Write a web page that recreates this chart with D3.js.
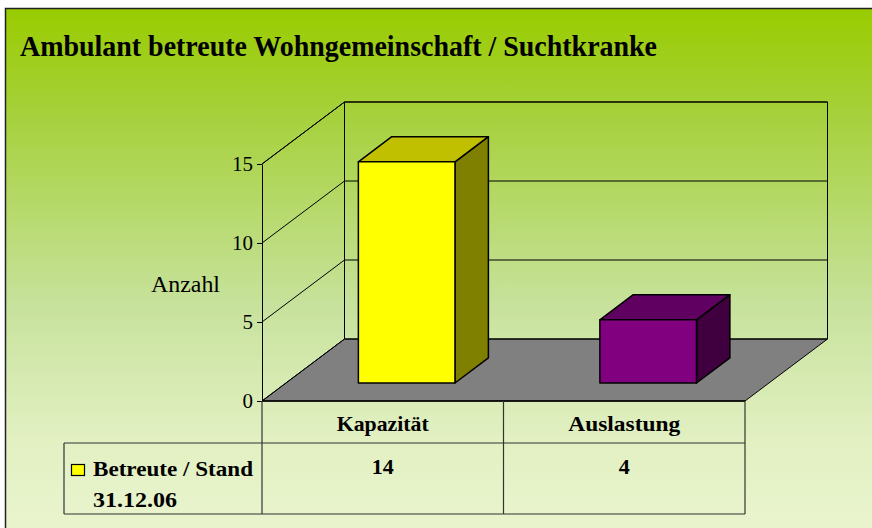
<!DOCTYPE html>
<html>
<head>
<meta charset="utf-8">
<script src="https://cdn.jsdelivr.net/npm/d3@7"></script>
<style>
  html, body { margin: 0; padding: 0; background: #ffffff; }
  svg { display: block; }
  text { font-family: "Liberation Serif", "Times New Roman", serif; fill: #000; }
</style>
</head>
<body>
<svg id="chart" width="872" height="528"></svg>
<script>
// Chart data
const title = "Ambulant betreute Wohngemeinschaft / Suchtkranke";
const categories = ["Kapazität", "Auslastung"];
const values = [14, 4];
const seriesLabel = ["Betreute / Stand", "31.12.06"];
const tickValues = [0, 5, 10, 15];
const yLabel = "Anzahl";

// Per-bar face colours: front, top, side
const barFront = ["#ffff00", "#800080"];
const barTop   = ["#c0c000", "#600060"];
const barSide  = ["#808000", "#400040"];

const svg = d3.select("#chart");
const W = 872, H = 528;

// Background panel with vertical gradient
const defs = svg.append("defs");
const grad = defs.append("linearGradient")
  .attr("id", "bg").attr("x1", 0).attr("y1", 0).attr("x2", 0).attr("y2", 1);
grad.append("stop").attr("offset", "0%").attr("stop-color", "#99cc00");
grad.append("stop").attr("offset", "20%").attr("stop-color", "#a6d13c");
grad.append("stop").attr("offset", "55%").attr("stop-color", "#c7e29c");
grad.append("stop").attr("offset", "80%").attr("stop-color", "#e2f0c2");
grad.append("stop").attr("offset", "100%").attr("stop-color", "#ebf5d0");

svg.append("rect")
  .attr("x", 5.5).attr("y", 8.5).attr("width", W + 10).attr("height", H + 10)
  .attr("fill", "url(#bg)").attr("stroke", "#222").attr("stroke-width", 1.5);

// Title
svg.append("text")
  .attr("x", 20).attr("y", 56)
  .attr("font-size", 29).attr("font-weight", "bold")
  .attr("textLength", 637).attr("lengthAdjust", "spacingAndGlyphs")
  .text(title);

// Scales for the front plane of the 3D box
const y = d3.scaleLinear().domain([0, 15]).range([401, 164]);
const x = d3.scaleBand().domain(categories).range([262, 745]);
const DX = 82.5, DY = -62;            // full depth offset of the box
const proj = (px, py, d) => [px + DX * d, py + DY * d];
const pts = arr => arr.map(p => p.join(",")).join(" ");

const xL = x.range()[0], xR = x.range()[1];
const g = svg.append("g");

// Floor
g.append("polygon")
  .attr("points", pts([proj(xL, y(0), 0), proj(xR, y(0), 0), proj(xR, y(0), 1), proj(xL, y(0), 1)]))
  .attr("fill", "#808080").attr("stroke", "#000").attr("stroke-width", 1);

// Back wall outline and gridlines
const yTop = y(15);
g.append("polygon")
  .attr("points", pts([proj(xL, y(0), 1), proj(xL, yTop, 1), proj(xR, yTop, 1), proj(xR, y(0), 1)]))
  .attr("fill", "none").attr("stroke", "#000").attr("stroke-width", 1);

tickValues.filter(v => v > 0).forEach(v => {
  const a = proj(xL, y(v), 1), b = proj(xR, y(v), 1), c = proj(xL, y(v), 0);
  g.append("line").attr("x1", a[0]).attr("y1", a[1]).attr("x2", b[0]).attr("y2", b[1])
    .attr("stroke", "#000").attr("stroke-width", 1);
  // side wall diagonal
  g.append("line").attr("x1", c[0]).attr("y1", c[1]).attr("x2", a[0]).attr("y2", a[1])
    .attr("stroke", "#000").attr("stroke-width", 1);
});

// Bars (drawn as 3D boxes)
const d1 = 0.29, d2 = 0.695;
const bw = x.bandwidth() * 0.4;
categories.forEach((c, i) => {
  const bx = x(c) + (x.bandwidth() - bw) / 2;
  const yt = y(values[i]), yb = y(0);
  const bar = g.append("g");
  bar.append("polygon")
    .attr("points", pts([proj(bx + bw, yt, d1), proj(bx + bw, yt, d2), proj(bx + bw, yb, d2), proj(bx + bw, yb, d1)]))
    .attr("fill", barSide[i]).attr("stroke", "#000").attr("stroke-width", 1.5).attr("stroke-linejoin", "round");
  bar.append("polygon")
    .attr("points", pts([proj(bx, yt, d1), proj(bx + bw, yt, d1), proj(bx + bw, yt, d2), proj(bx, yt, d2)]))
    .attr("fill", barTop[i]).attr("stroke", "#000").attr("stroke-width", 1.5).attr("stroke-linejoin", "round");
  bar.append("polygon")
    .attr("points", pts([proj(bx, yt, d1), proj(bx + bw, yt, d1), proj(bx + bw, yb, d1), proj(bx, yb, d1)]))
    .attr("fill", barFront[i]).attr("stroke", "#000").attr("stroke-width", 1.5).attr("stroke-linejoin", "round");
});

// Front-left edge of the side wall (value axis)
const axis = d3.axisLeft(y).tickValues(tickValues).tickSize(5).tickSizeOuter(0).tickPadding(4);
const ax = svg.append("g").attr("transform", `translate(${xL},0)`).call(axis);
ax.select(".domain").attr("stroke", "#000");
ax.selectAll(".tick line").attr("stroke", "#000");
ax.selectAll(".tick text")
  .attr("font-family", "Liberation Serif, Times New Roman, serif")
  .attr("font-size", 21).attr("fill", "#000");

// Side wall bottom and top diagonals
[0, 15].forEach(v => {
  const a = proj(xL, y(v), 0), b = proj(xL, y(v), 1);
  svg.append("line").attr("x1", a[0]).attr("y1", a[1]).attr("x2", b[0]).attr("y2", b[1])
    .attr("stroke", "#000").attr("stroke-width", 1);
});
// Front edge of the floor
svg.append("line").attr("x1", xL).attr("y1", y(0)).attr("x2", xR).attr("y2", y(0))
  .attr("stroke", "#000").attr("stroke-width", 1.5);

// Axis title
svg.append("text")
  .attr("x", 151).attr("y", 292).attr("font-size", 23)
  .attr("textLength", 69).attr("lengthAdjust", "spacingAndGlyphs")
  .text(yLabel);

// Data table below the plot
const rowTop = y(0), rowMid = 443, rowBot = 514, tableLeft = 64;
const tl = svg.append("g").attr("stroke", "#333").attr("stroke-width", 1.2);
tl.append("line").attr("x1", tableLeft).attr("y1", rowMid).attr("x2", xR).attr("y2", rowMid);
tl.append("line").attr("x1", tableLeft).attr("y1", rowBot).attr("x2", xR).attr("y2", rowBot);
tl.append("line").attr("x1", tableLeft).attr("y1", rowMid).attr("x2", tableLeft).attr("y2", rowBot);
[xL, ...categories.map(c => x(c) + x.bandwidth())].forEach(xv => {
  tl.append("line").attr("x1", xv).attr("y1", rowTop).attr("x2", xv).attr("y2", rowBot);
});

const catWidths = [92, 112];
categories.forEach((c, i) => {
  svg.append("text")
    .attr("x", x(c) + x.bandwidth() / 2).attr("y", 431)
    .attr("text-anchor", "middle").attr("font-size", 21).attr("font-weight", "bold")
    .attr("textLength", catWidths[i]).attr("lengthAdjust", "spacingAndGlyphs")
    .text(c);
  svg.append("text")
    .attr("x", x(c) + x.bandwidth() / 2).attr("y", 474)
    .attr("text-anchor", "middle").attr("font-size", 22).attr("font-weight", "bold")
    .text(values[i]);
});

// Legend key in the table's row header
svg.append("rect")
  .attr("x", 71.5).attr("y", 464.5).attr("width", 13).attr("height", 11)
  .attr("fill", barFront[0]).attr("stroke", "#000").attr("stroke-width", 1.2);
svg.append("text")
  .attr("x", 93).attr("y", 476).attr("font-size", 21).attr("font-weight", "bold")
  .attr("textLength", 160).attr("lengthAdjust", "spacingAndGlyphs")
  .text(seriesLabel[0]);
svg.append("text")
  .attr("x", 93).attr("y", 507).attr("font-size", 21).attr("font-weight", "bold")
  .attr("textLength", 84).attr("lengthAdjust", "spacingAndGlyphs")
  .text(seriesLabel[1]);
</script>
</body>
</html>
